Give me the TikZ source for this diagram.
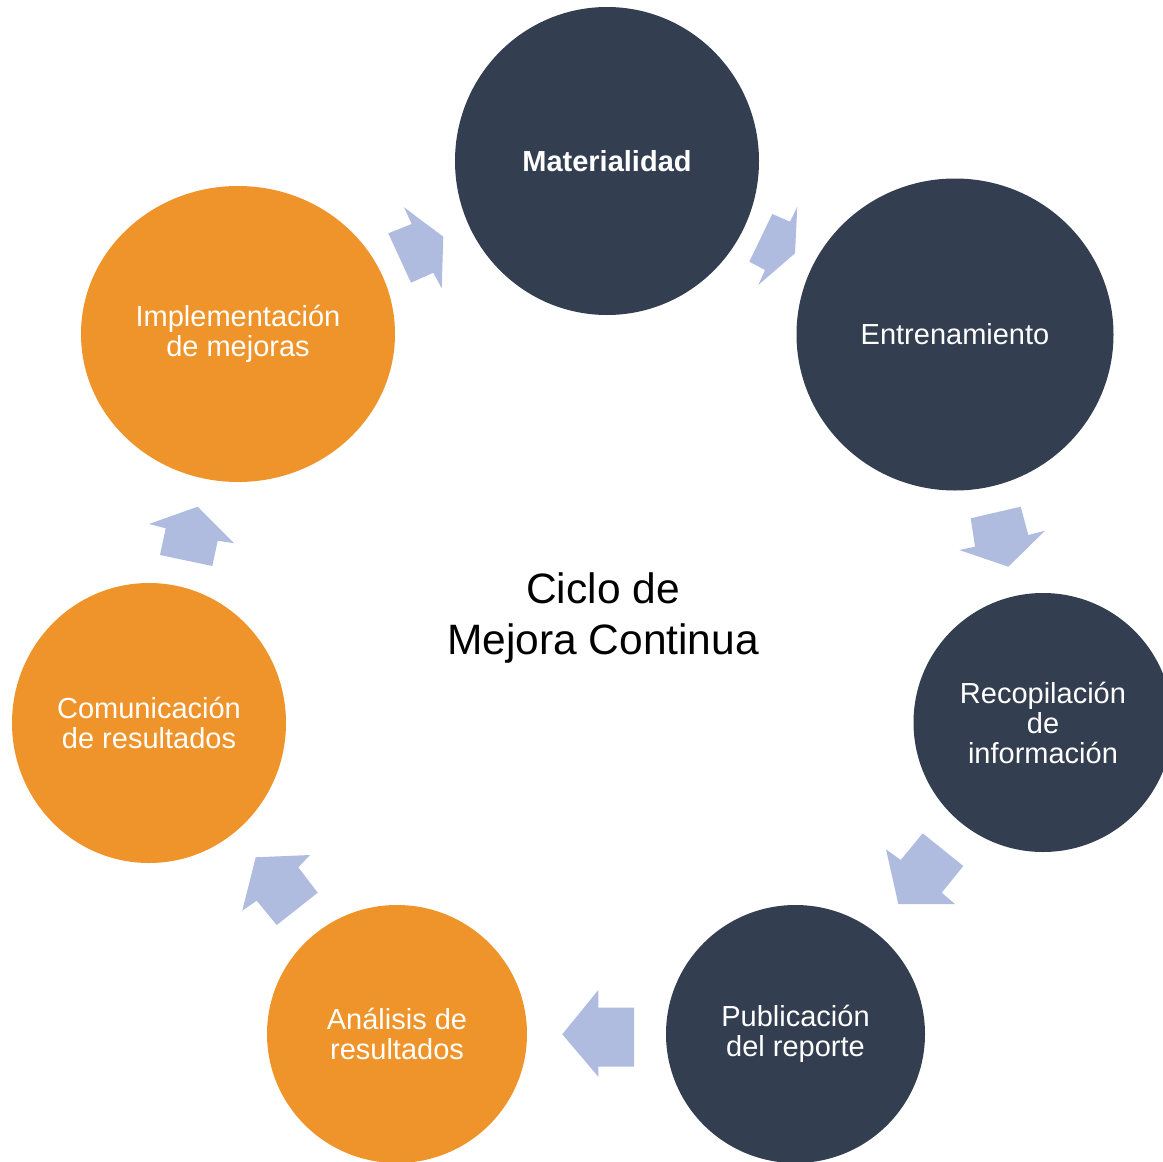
\documentclass[tikz,border=0pt]{standalone}
\usepackage{fontspec}
\setmainfont{Liberation Sans}
\usetikzlibrary{shapes.geometric}
\definecolor{navy}{RGB}{51,62,80}
\definecolor{orng}{RGB}{239,148,42}
\definecolor{arrowblue}{RGB}{175,188,223}
\begin{document}
\begin{tikzpicture}[x=1pt,y=-1pt,
  stage/.style={ellipse, inner sep=0pt, text=white, align=center,
    font=\fontsize{29}{30}\selectfont},
  darkstage/.style={stage, fill=navy},
  orangestage/.style={stage, fill=orng},
  blockarrow/.style={fill=arrowblue},
  title/.style={align=center, text=black, font=\fontsize{42.5}{51}\selectfont}]
\clip (0,0) rectangle (1163,1162);
% stages
\node[darkstage, minimum width=304pt, minimum height=308pt] (mat) at (607,161) {\textbf{Materialidad}};
\node[darkstage, minimum width=317pt, minimum height=312pt] (ent) at (955,334.5) {Entrenamiento};
\node[darkstage, minimum width=259pt, minimum height=259pt] (rec) at (1043,722.5) {Recopilación\\de\\información};
\node[darkstage, minimum width=259pt, minimum height=258pt] (pub) at (795.5,1034) {Publicación\\del reporte};
\node[orangestage, minimum width=260pt, minimum height=258pt] (ana) at (397,1034) {Análisis de\\resultados};
\node[orangestage, minimum width=274pt, minimum height=280pt] (com) at (149,723) {Comunicación\\de resultados};
\node[orangestage, minimum width=314pt, minimum height=296pt] (imp) at (238,334) {Implementación\\de mejoras};
% centre title
\node[title] (ttl) at (603,618) {Ciclo de\\Mejora Continua};
% block arrows between stages
\fill[blockarrow] (404,207.3) -- (443.3,236.7) -- (441.7,288.3) -- (433.3,272.7) -- (411,282.7) -- (388.3,233.3) -- (411.7,224) -- cycle;
\fill[blockarrow] (772.3,214) -- (790,221.7) -- (797.3,206.7) -- (795,253.3) -- (758.3,285) -- (765,270) -- (749.3,261.7) -- cycle;
\fill[blockarrow] (970.7,518.3) -- (1020.7,506.7) -- (1028.3,535) -- (1045,530.7) -- (1008.3,566.7) -- (959.3,550) -- (975,546.7) -- cycle;
\fill[blockarrow] (922.7,833.3) -- (963.3,866) -- (941.7,892.7) -- (955,904) -- (898.3,904) -- (886,849.3) -- (900.7,860) -- cycle;
\fill[blockarrow] (634,1007.7) -- (634,1066.7) -- (598.3,1066.7) -- (598.3,1076.7) -- (562.3,1034.3) -- (598.3,990) -- (598.3,1007.7) -- cycle;
\fill[blockarrow] (255.7,857.3) -- (310,855) -- (298.3,867.3) -- (317.7,892.7) -- (276.7,925) -- (256.7,900.7) -- (242.3,910.7) -- cycle;
\fill[blockarrow] (197.7,506.7) -- (234.3,543.3) -- (217.7,540.7) -- (212.3,566) -- (160,555) -- (165.7,528.3) -- (149,524) -- cycle;
\end{tikzpicture}
\end{document}
